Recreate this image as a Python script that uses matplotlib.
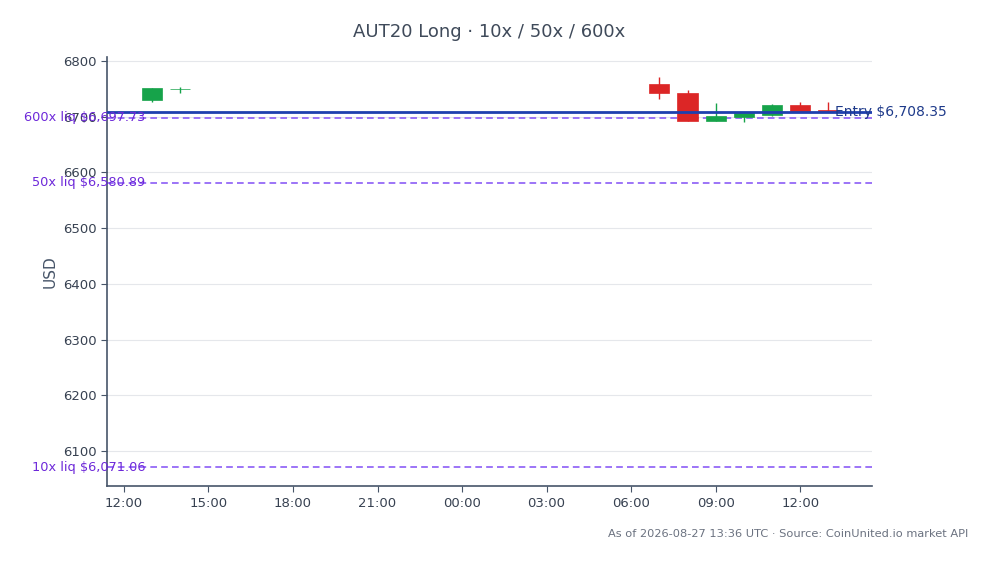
import matplotlib
matplotlib.use("Agg")
import matplotlib.pyplot as plt
import matplotlib.dates as mdates
import numpy as np
import pandas as pd

# ---- data ----
times = ["2026-08-26 13:00", "2026-08-26 14:00",
         "2026-08-27 07:00", "2026-08-27 08:00", "2026-08-27 09:00",
         "2026-08-27 10:00", "2026-08-27 11:00", "2026-08-27 12:00",
         "2026-08-27 13:00"]
opens  = [6729.5, 6749.5, 6758.7, 6742.0, 6693.0, 6700.0, 6702.0, 6721.0, 6712.0]
highs  = [6752.0, 6754.0, 6771.8, 6748.0, 6725.0, 6707.0, 6722.0, 6726.0, 6726.0]
lows   = [6726.0, 6742.0, 6732.3, 6692.5, 6692.0, 6691.0, 6701.5, 6708.5, 6708.0]
closes = [6752.0, 6750.0, 6742.0, 6692.8, 6701.3, 6706.0, 6721.0, 6709.0, 6708.5]

entry_price = 6708.35
liq_labels = ["600x liq", "50x liq", "10x liq"]
liq_prices = [6697.73, 6580.89, 6071.06]

title = "AUT20 Long · 10x / 50x / 600x"
footer = "As of 2026-08-27 13:36 UTC · Source: CoinUnited.io market API"

# ---- plot ----
fig = plt.figure(figsize=(9.91, 5.64), dpi=100)
ax = fig.add_axes([0.108, 0.138, 0.772, 0.761])

t = mdates.date2num(pd.to_datetime(times).to_pydatetime())
GREEN = "#16a34a"
RED = "#dc2626"
cols = [GREEN if c >= o else RED for o, c in zip(opens, closes)]
w = 0.72 / 24
ax.vlines(t, lows, highs, colors=cols, linewidth=1, zorder=3)
bottoms = [min(o, c) for o, c in zip(opens, closes)]
heights = [max(abs(c - o), 0.6) for o, c in zip(opens, closes)]
ax.bar(t, heights, bottom=bottoms, width=w, color=cols, edgecolor=cols,
       linewidth=0.5, zorder=3)

ax.axhline(entry_price, color="#1e40af", linewidth=2, zorder=4)
ax.text(0.952, entry_price, f"Entry ${entry_price:,.2f}", transform=ax.get_yaxis_transform(),
        ha="left", va="center", color="#1e3a8a", fontsize=10, zorder=5, clip_on=False)

for lab, p in zip(liq_labels, liq_prices):
    ax.axhline(p, color="#8b5cf6", linewidth=1.2, linestyle=(0, (4, 2.5)), zorder=2)
    ax.text(0.05, p, f"{lab} ${p:,.2f}", transform=ax.get_yaxis_transform(),
            ha="right", va="center", color="#6d28d9", fontsize=9.3, zorder=5, clip_on=False)

x0 = mdates.date2num(pd.Timestamp("2026-08-26 11:24").to_pydatetime())
x1 = mdates.date2num(pd.Timestamp("2026-08-27 14:33").to_pydatetime())
ax.set_xlim(x0, x1)
ax.set_ylim(6037, 6807)
ax.set_yticks([6100, 6200, 6300, 6400, 6500, 6600, 6700, 6800])
ax.xaxis.set_major_locator(mdates.HourLocator(byhour=[0, 3, 6, 9, 12, 15, 18, 21]))
ax.xaxis.set_major_formatter(mdates.DateFormatter("%H:%M"))

ax.grid(axis="y", color="#e5e7eb", linewidth=0.8, zorder=0)
ax.set_axisbelow(True)
for s in ["top", "right"]:
    ax.spines[s].set_visible(False)
for s in ["left", "bottom"]:
    ax.spines[s].set_color("#475569")
    ax.spines[s].set_linewidth(1.2)
ax.tick_params(colors="#475569", labelcolor="#374151", labelsize=9.5, length=4)
ax.set_ylabel("USD", color="#475569", fontsize=11)

fig.text(0.494, 0.943, title, ha="center", va="center", fontsize=13, color="#3f4a5a")
fig.text(0.977, 0.054, footer, ha="right", va="center", fontsize=8.2, color="#6b7280")

fig.savefig("out.png", dpi=100, facecolor="white")
